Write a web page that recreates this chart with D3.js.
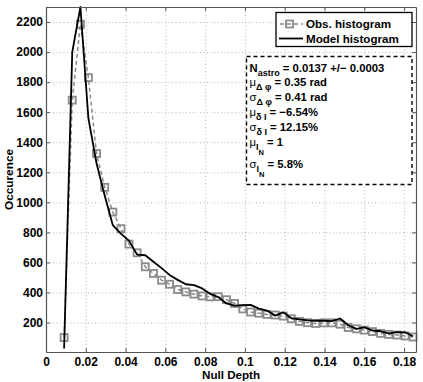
<!DOCTYPE html>
<html>
<head>
<meta charset="utf-8">
<script src="https://cdn.jsdelivr.net/npm/d3@7"></script>
<style>
  html, body { margin: 0; padding: 0; background: #fff; }
  svg { display: block; font-family: "Liberation Sans", Arial, sans-serif; }
  text { white-space: pre; }
</style>
</head>
<body>
<svg id="chart"></svg>
<script>
// bin centres of the null-depth histogram
const nullDepth = [
  0.0091, 0.0132, 0.0173, 0.0213, 0.0254, 0.0295, 0.0336, 0.0377, 0.0417, 0.0458,
  0.0499, 0.0540, 0.0581, 0.0621, 0.0662, 0.0703, 0.0744, 0.0785, 0.0825, 0.0866,
  0.0907, 0.0948, 0.0989, 0.1029, 0.1070, 0.1111, 0.1152, 0.1193, 0.1233, 0.1274,
  0.1315, 0.1356, 0.1397, 0.1437, 0.1478, 0.1519, 0.1560, 0.1601, 0.1641, 0.1682,
  0.1723, 0.1764, 0.1805, 0.1845,
];

const obsCounts = [
  100, 1680, 2185, 1830, 1325, 1100, 935, 825, 722, 664,
  571, 527, 482, 455, 420, 404, 389, 377, 371, 372,
  352, 327, 291, 270, 262, 254, 250, 243, 225, 208,
  199, 194, 198, 198, 189, 167, 158, 150, 140, 128,
  121, 117, 111, 104,
];

const modelCounts = [
  27, 2000, 2300, 1560, 1260, 1045, 848, 790, 745, 652,
  648, 605, 562, 517, 484, 455, 449, 427, 391, 369,
  327, 313, 315, 318, 293, 280, 246, 268, 229, 221,
  215, 212, 212, 210, 227, 182, 158, 168, 147, 142,
  128, 136, 135, 109,
];

const xTicks = [0, 0.02, 0.04, 0.06, 0.08, 0.1, 0.12, 0.14, 0.16, 0.18];
const xTickLabels = ["0", "0.02", "0.04", "0.06", "0.08", "0.1", "0.12", "0.14", "0.16", "0.18"];
const yTicks = [200, 400, 600, 800, 1000, 1200, 1400, 1600, 1800, 2000, 2200];

const seriesNames = ["Obs. histogram", "Model histogram"];

// fit results: [text, level, greek?]  level 0 = normal, 1 = subscript, 2 = sub-subscript
const fitLines = [
  [["N", 0], ["astro", 1], [" = 0.0137 +/\u2212 0.0003", 0]],
  [["\u03bc", 0, 1], ["\u0394 \u03c6", 1], [" = 0.35 rad", 0]],
  [["\u03c3", 0, 1], ["\u0394 \u03c6", 1], [" = 0.41 rad", 0]],
  [["\u03bc", 0, 1], ["\u03b4 I", 1], [" = \u22126.54%", 0]],
  [["\u03c3", 0, 1], ["\u03b4 I", 1], [" = 12.15%", 0]],
  [["\u03bc", 0, 1], ["I", 1], ["N", 2], [" = 1", 0]],
  [["\u03c3", 0, 1], ["I", 1], ["N", 2], [" = 5.8%", 0]],
];

const W = 423, H = 382;
const margin = { top: 7, right: 7, bottom: 30, left: 46 };
const iw = W - margin.left - margin.right;
const ih = H - margin.top - margin.bottom;

const svg = d3.select("#chart").attr("width", W).attr("height", H);
const g = svg.append("g").attr("transform", `translate(${margin.left},${margin.top})`);

const x = d3.scaleLinear().domain([0, 0.186]).range([0, iw]);
const y = d3.scaleLinear().domain([4, 2300]).range([ih, 0]);

// dotted grid
g.append("g")
  .attr("transform", `translate(0,${ih})`)
  .call(d3.axisBottom(x).tickValues(xTicks).tickSize(-ih).tickFormat(""))
  .call((s) => s.select(".domain").remove())
  .selectAll("line")
  .attr("stroke", "#b5b5b5")
  .attr("stroke-dasharray", "1,2.5");
g.append("g")
  .call(d3.axisLeft(y).tickValues(yTicks).tickSize(-iw).tickFormat(""))
  .call((s) => s.select(".domain").remove())
  .selectAll("line")
  .attr("stroke", "#b5b5b5")
  .attr("stroke-dasharray", "1,2.5");

// series
const pts = nullDepth.map((d, i) => ({ x: d, obs: obsCounts[i], model: modelCounts[i] }));

g.append("path")
  .datum(pts)
  .attr("fill", "none")
  .attr("stroke", "#8a8a8a")
  .attr("stroke-width", 1.5)
  .attr("stroke-dasharray", "4,3")
  .attr("d", d3.line().x((d) => x(d.x)).y((d) => y(d.obs)));

g.selectAll("rect.obs")
  .data(pts)
  .join("rect")
  .attr("class", "obs")
  .attr("x", (d) => x(d.x) - 3.5)
  .attr("y", (d) => y(d.obs) - 3.5)
  .attr("width", 7)
  .attr("height", 7)
  .attr("fill", "none")
  .attr("stroke", "#8a8a8a")
  .attr("stroke-width", 1.8);

g.append("path")
  .datum(pts)
  .attr("fill", "none")
  .attr("stroke", "#000")
  .attr("stroke-width", 1.8)
  .attr("stroke-linejoin", "round")
  .attr("d", d3.line().x((d) => x(d.x)).y((d) => y(d.model)));

// axes with inward ticks on all four sides
const axisColor = "#555";
const styleAxis = (s) => {
  s.select(".domain").attr("stroke", axisColor).attr("stroke-width", 1.2);
  s.selectAll(".tick line").attr("stroke", axisColor);
  s.selectAll("text")
    .attr("font-size", 12)
    .attr("font-weight", "bold")
    .attr("fill", "#000")
    .attr("font-family", "Liberation Sans, Arial, sans-serif");
};

g.append("g")
  .attr("transform", `translate(0,${ih})`)
  .call(
    d3.axisBottom(x).tickValues(xTicks).tickSizeInner(-4).tickSizeOuter(0)
      .tickPadding(5).tickFormat((d, i) => xTickLabels[i]),
  )
  .call(styleAxis);
g.append("g")
  .call(
    d3.axisLeft(y).tickValues(yTicks).tickSizeInner(-4).tickSizeOuter(0)
      .tickPadding(3).tickFormat(d3.format("d")),
  )
  .call(styleAxis);
g.append("g")
  .call(d3.axisTop(x).tickValues(xTicks).tickSizeInner(-4).tickSizeOuter(0).tickFormat(""))
  .call(styleAxis);
g.append("g")
  .attr("transform", `translate(${iw},0)`)
  .call(d3.axisRight(y).tickValues(yTicks).tickSizeInner(-4).tickSizeOuter(0).tickFormat(""))
  .call(styleAxis);

// axis titles
svg.append("text")
  .attr("x", margin.left + iw / 2)
  .attr("y", 378.5)
  .attr("text-anchor", "middle")
  .attr("font-size", 11.6)
  .attr("font-weight", "bold")
  .text("Null Depth");
svg.append("text")
  .attr("transform", `translate(13,${margin.top + ih / 2}) rotate(-90)`)
  .attr("text-anchor", "middle")
  .attr("font-size", 11.8)
  .attr("font-weight", "bold")
  .text("Occurence");

// legend
const leg = svg.append("g").attr("transform", "translate(276,12.5)");
leg.append("rect")
  .attr("width", 136).attr("height", 34)
  .attr("fill", "#fff").attr("stroke", "#000").attr("stroke-width", 1.3);
leg.append("line")
  .attr("x1", 4).attr("x2", 27).attr("y1", 11.5).attr("y2", 11.5)
  .attr("stroke", "#8a8a8a").attr("stroke-width", 1.5).attr("stroke-dasharray", "4,3");
leg.append("rect")
  .attr("x", 10).attr("y", 8).attr("width", 7).attr("height", 7)
  .attr("fill", "none").attr("stroke", "#8a8a8a").attr("stroke-width", 1.8);
leg.append("line")
  .attr("x1", 3).attr("x2", 27).attr("y1", 26).attr("y2", 26)
  .attr("stroke", "#000").attr("stroke-width", 1.8);
leg.selectAll("text.lab")
  .data(seriesNames)
  .join("text")
  .attr("class", "lab")
  .attr("x", 30)
  .attr("y", (d, i) => 15.5 + i * 14.5)
  .attr("font-size", 11.6)
  .attr("font-weight", "bold")
  .text((d) => d);

// fit parameters box
svg.append("rect")
  .attr("x", 246.5).attr("y", 56.5).attr("width", 165.5).attr("height", 128)
  .attr("fill", "#fff").attr("stroke", "#000").attr("stroke-width", 1.4)
  .attr("stroke-dasharray", "4,3");

const lineY = [71.5, 86, 101, 116, 131, 145.5, 167.5];
const shift = [0, 4, 9];
const size = [11.3, 9, 7.5];
fitLines.forEach((parts, li) => {
  const t = svg.append("text").attr("x", 249.5).attr("y", lineY[li]).attr("font-weight", "bold");
  let level = 0;
  parts.forEach(([txt, lv, greek]) => {
    t.append("tspan")
      .attr("dy", shift[lv] - shift[level])
      .attr("font-size", size[lv])
      .attr("font-weight", greek ? "normal" : "bold")
      .text(txt);
    level = lv;
  });
});
</script>
</body>
</html>
